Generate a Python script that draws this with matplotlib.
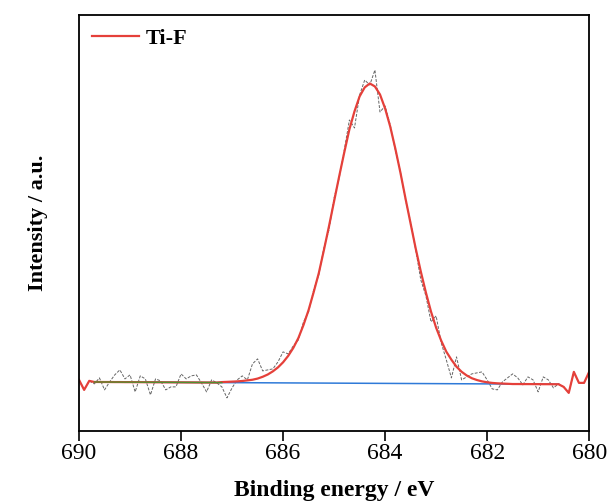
import numpy as np
import matplotlib
matplotlib.use("Agg")
import matplotlib.pyplot as plt

plt.rcParams['font.family'] = ['Liberation Serif', 'DejaVu Serif']

# binding energy grid, 0.1 eV steps from 690 down to 680
energy = np.round(np.arange(690.0, 679.95, -0.1), 2)

# raw XPS counts
raw = [2020, 1820, 2000, 1940, 2060, 1820, 1980, 2120, 2220, 2040,
       2120, 1780, 2100, 2040, 1720, 2040, 2000, 1820, 1880, 1880,
       2140, 2040, 2100, 2120, 1960, 1780, 2020, 1960, 1880, 1660,
       1860, 2020, 2100, 2020, 2340, 2440, 2200, 2220, 2240, 2380,
       2580, 2540, 2700, 2820, 3180, 3380, 3820, 4120, 4660, 5020,
       5660, 6060, 6620, 7220, 7060, 7720, 8020, 7920, 8220, 7380,
       7500, 7120, 6620, 6180, 5620, 5180, 4620, 4020, 3700, 3180,
       3300, 2760, 2420, 2060, 2480, 2020, 2080, 2140, 2160, 2180,
       2020, 1840, 1820, 1980, 2060, 2140, 2060, 1920, 2080, 2020,
       1780, 2080, 2020, 1860, 1940, 1880, 1760, 2180, 1960, 1960,
       2180]

# fitted envelope (Ti-F peak + background), same grid
envelope = [2020, 1820, 2000, 1978, 1978, 1977, 1977, 1976, 1976, 1975,
            1975, 1974, 1974, 1973, 1973, 1972, 1972, 1971, 1971, 1970,
            1970, 1969, 1969, 1968, 1968, 1967, 1967, 1966, 1976, 1980,
            1985, 1990, 1998, 2010, 2023, 2046, 2082, 2128, 2191, 2270,
            2372, 2500, 2659, 2858, 3118, 3418, 3777, 4156, 4616, 5095,
            5595, 6094, 6574, 7033, 7393, 7692, 7872, 7951, 7891, 7730,
            7450, 7089, 6649, 6168, 5648, 5147, 4647, 4186, 3766, 3385,
            3065, 2804, 2584, 2423, 2283, 2182, 2108, 2053, 2017, 1990,
            1972, 1959, 1951, 1946, 1942, 1937, 1937, 1936, 1936, 1935,
            1935, 1934, 1934, 1933, 1933, 1880, 1760, 2180, 1960, 1960,
            2180]

# background line ends and the green segment
bg_energy = [689.7, 680.6]
bg_counts = [1978, 1933]
green_energy = [689.7, 687.2]
green_counts = [1978, 1966]

fig = plt.figure(figsize=(6.08, 5.01), dpi=100)
ax = fig.add_axes([0.130, 0.140, 0.839, 0.830])

ax.plot(energy, raw, color='#666666', lw=0.7, ls=(0, (3, 1.5)))
ax.plot(bg_energy, bg_counts, color='#2f7ad8', lw=1.1)
ax.plot(energy, envelope, color='#e5403a', lw=1.6, label='Ti-F')
ax.plot(green_energy, green_counts, color='#4f8f2f', lw=1.0)

ax.set_xlim(690, 680)
ax.set_ylim(1000, 9320)
ax.set_xticks([690, 688, 686, 684, 682, 680])
ax.set_yticks([])
ax.tick_params(axis='x', direction='out', length=7, width=1.2, labelsize=17, pad=2)
for s in ax.spines.values():
    s.set_linewidth(1.3)

ax.set_xlabel('Binding energy / eV', fontsize=17, fontweight='bold', labelpad=11)
ax.set_ylabel('Intensity / a.u.', fontsize=16, fontweight='bold', labelpad=22)

leg = ax.legend(loc='upper left', frameon=False, prop={'size': 16, 'weight': 'bold'},
                handlelength=2.1, handletextpad=0.3, borderaxespad=0.2)

fig.savefig('out.png', dpi=100)
